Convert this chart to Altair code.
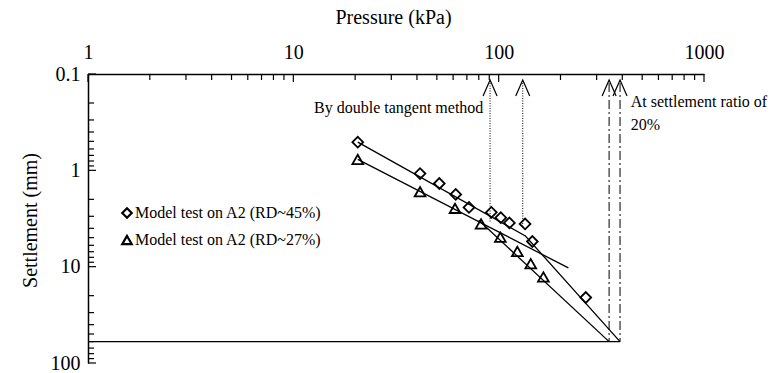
import altair as alt
import pandas as pd

# ---------------- data ----------------
lab45 = "Model test on A2 (RD~45%)"
lab27 = "Model test on A2 (RD~27%)"

d45_p = [20.6, 41.4, 51.4, 61.8, 71.7, 92.1, 102.4, 112.8, 134.5, 145.9, 265.6]
d45_s = [0.51, 1.08, 1.37, 1.78, 2.43, 2.73, 3.10, 3.52, 3.60, 5.48, 20.9]
t27_p = [20.6, 41.4, 61.3, 82.1, 101.9, 123.3, 143.3, 165.1]
t27_s = [0.77, 1.67, 2.48, 3.60, 4.94, 6.95, 9.31, 12.8]

# fitted tangent lines
fit45_p = [20.6, 135, 390]
fit45_s = [0.51, 4.8, 60]
fit27a_p = [20.6, 218.5]
fit27a_s = [0.77, 10.3]
fit27b_p = [80, 345]
fit27b_s = [3.3, 60]

# settlement at 20 % ratio
limit_s = 60
limit_p = [1, 390]

# arrows
dot_p = [90.8, 131]
dot_top = [0.124, 0.124]
dot_bot = [3.52, 3.87]
dd_p = [345, 390]
dd_top = [0.124, 0.124]
dd_bot = [60, 60]
head_s = 0.1394

# ticks
x_major = [1, 10, 100, 1000]
x_minor = [m * d for d in (1, 10, 100) for m in range(2, 10)]
y_major = [0.1, 1, 10, 100]
y_minor = [round(m * d, 3) for d in (0.1, 1, 10) for m in range(2, 10)]

# annotations
ann_text = ["By double tangent method", "At settlement ratio of", "20%"]
ann_p = [84.2, 440, 440]
ann_s = [0.2258, 0.193, 0.3356]

FONT = "'Liberation Serif', 'Times New Roman', Times, serif"

# ---------------- scales / axes ----------------
xs = alt.Scale(type="log", domain=[1, 1000], nice=False)
ys = alt.Scale(type="log", domain=[0.1, 100], reverse=True, nice=False)

x_axis = alt.Axis(orient="top", values=x_major, format="~g", ticks=False,
                  labelFont=FONT, labelFontSize=20, labelPadding=12, labelFlush=False,
                  labelOverlap=False, grid=False,
                  title="Pressure (kPa)", titleFont=FONT, titleFontSize=20,
                  titleFontWeight="normal",
                  titleX=305, titleY=-57, titleBaseline="middle", titleAlign="center",
                  domainColor="black", domainWidth=1.5)
y_axis = alt.Axis(orient="left", values=y_major, format="~g", ticks=False,
                  labelFont=FONT, labelFontSize=20, labelPadding=8, labelFlush=False,
                  labelOverlap=False, grid=False,
                  title="Settlement (mm)", titleFont=FONT, titleFontSize=20,
                  titleFontWeight="normal",
                  titleX=-58, titleY=146, titleAngle=270,
                  titleBaseline="middle", titleAlign="center",
                  domainColor="black", domainWidth=1.5)


def X(field="p"):
    return alt.X(f"{field}:Q", scale=xs, axis=x_axis)


def Y(field="s"):
    return alt.Y(f"{field}:Q", scale=ys, axis=y_axis)


# ---------------- tables ----------------
pts = pd.concat([
    pd.DataFrame({"p": d45_p, "s": d45_s, "series": lab45}),
    pd.DataFrame({"p": t27_p, "s": t27_s, "series": lab27}),
])
fits = pd.concat([
    pd.DataFrame({"p": fit45_p, "s": fit45_s, "line": "a", "o": range(len(fit45_p))}),
    pd.DataFrame({"p": fit27a_p, "s": fit27a_s, "line": "b", "o": range(len(fit27a_p))}),
    pd.DataFrame({"p": fit27b_p, "s": fit27b_s, "line": "c", "o": range(len(fit27b_p))}),
    pd.DataFrame({"p": limit_p, "s": [limit_s, limit_s], "line": "d", "o": range(2)}),
])
dots = pd.DataFrame({"p": dot_p, "s": dot_top, "s2": dot_bot})
dds = pd.DataFrame({"p": dd_p, "s": dd_top, "s2": dd_bot})
heads = pd.DataFrame({"p": dot_p + dd_p, "s": [head_s] * 4})
ann = pd.DataFrame({"t": ann_text, "p": ann_p, "s": ann_s})

# ---------------- layers ----------------
lines = alt.Chart(fits).mark_line(color="black", strokeWidth=1.3).encode(
    x=X(), y=Y(), detail="line:N", order="o:Q")

points = alt.Chart(pts).mark_point(filled=False, color="black", strokeWidth=1.8,
                                   opacity=1).encode(
    x=X(), y=Y(),
    shape=alt.Shape("series:N",
                    scale=alt.Scale(domain=[lab45, lab27], range=["diamond", "triangle-up"]),
                    legend=alt.Legend(orient="none", legendX=31, legendY=131, title=None,
                                      labelFont=FONT, labelFontSize=16, labelColor="black",
                                      labelLimit=400,
                                      symbolStrokeColor="black", symbolStrokeWidth=2.2,
                                      symbolFillColor="white", symbolSize=90,
                                      labelOffset=0, rowPadding=8, padding=0)),
    size=alt.value(115))

dotted = alt.Chart(dots).mark_rule(color="black", strokeWidth=1, strokeDash=[1, 1.5]).encode(
    x=X(), y=Y(), y2="s2:Q")
dashdot = alt.Chart(dds).mark_rule(color="black", strokeWidth=1,
                                   strokeDash=[9, 3, 2, 3]).encode(
    x=X(), y=Y(), y2="s2:Q")
arrowheads = alt.Chart(heads).mark_point(
    shape="M -0.875 1 L 0 -1 L 0.875 1", filled=False, color="black",
    strokeWidth=1.2, size=256, opacity=1).encode(x=X(), y=Y())


def xtick_layer(vals, length):
    return alt.Chart(pd.DataFrame({"p": vals})).mark_rule(
        color="black", strokeWidth=1.2).encode(x=X(), y=alt.value(0), y2=alt.value(length))


def ytick_layer(vals, length):
    return alt.Chart(pd.DataFrame({"s": vals})).mark_rule(
        color="black", strokeWidth=1.2).encode(y=Y(), x=alt.value(0), x2=alt.value(length))


text_r = alt.Chart(ann.iloc[[0]]).mark_text(font=FONT, fontSize=16, color="black",
                                            baseline="middle", align="right").encode(
    x=X(), y=Y(), text="t:N")
text_l = alt.Chart(ann.iloc[1:]).mark_text(font=FONT, fontSize=16, color="black",
                                           baseline="middle", align="left").encode(
    x=X(), y=Y(), text="t:N")

chart = alt.layer(lines, dotted, dashdot, arrowheads,
                  xtick_layer(x_major, 8), xtick_layer(x_minor, 6),
                  ytick_layer(y_major, 8), ytick_layer(y_minor, 6),
                  points, text_r, text_l).properties(
    width=616, height=289, autosize="none",
    padding={"left": 88, "top": 74, "right": 68, "bottom": 10},
    background="white",
).configure(font=FONT).configure_view(stroke=None).configure_axis(
    labelFont=FONT, titleFont=FONT, labelColor="black", titleColor="black"
).configure_legend(labelFont=FONT)

chart.save("out.html", embed_options={"renderer": "svg", "actions": False})
